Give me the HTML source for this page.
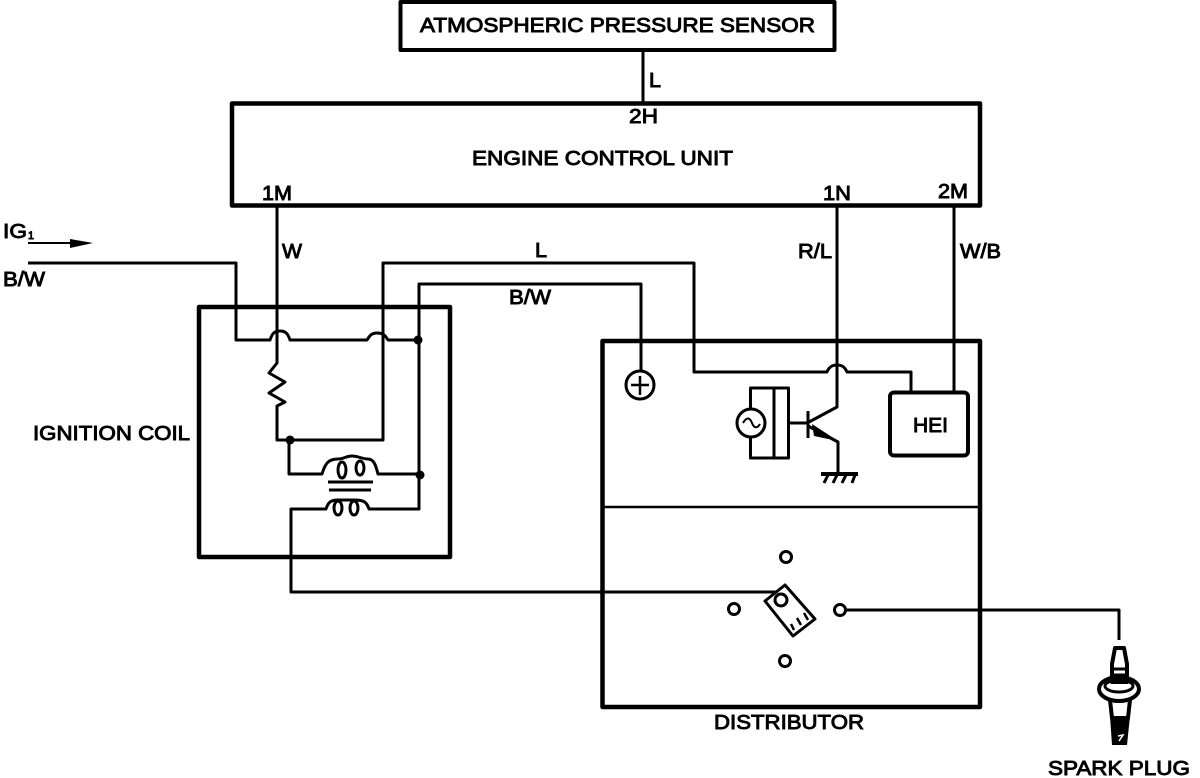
<!DOCTYPE html>
<html><head><meta charset="utf-8"><style>
html,body{margin:0;padding:0;background:#fff}
svg{display:block}
text{font-family:"Liberation Sans",sans-serif;font-size:20px;fill:#000;stroke:#000;stroke-width:.9}
</style></head><body>
<svg width="1200" height="778" viewBox="0 0 1200 778" xmlns="http://www.w3.org/2000/svg">
<g fill="none" stroke="#000" stroke-width="3" stroke-linejoin="round">
<rect x="400.500" y="2" width="434" height="48" stroke-width="4"/>
<rect x="232" y="103.500" width="748" height="102" stroke-width="4.500"/>
<rect x="199" y="307" width="251" height="250" stroke-width="4.500"/>
<rect x="602.500" y="341" width="377.500" height="366" stroke-width="4.500"/>
<path d="M603 507H980" stroke-width="2.500"/>
<rect x="890" y="392.500" width="78" height="63" rx="4" stroke-width="4"/>
<path d="M643 50V103"/>
<path d="M277 205V331M277 331V363L269 373L285 382L269 393L285 402L277 406V440H383V263H694V372H827C829 367 832 365 837 365C842 365 845 367 847 372H911V392"/>
<path d="M837 205V407L809 422"/>
<path d="M28 263H236V340H270C272 334 274 331 280 331C286 331 288 334 290 340H367C370 335 372 333 377 333C383 333 385 335 388 340H419"/>
<path d="M641 370V284H419V509H369C367 503 365 500 355 500H338C330 500 328 503 326 509H291V592H776"/>
<path d="M289 440V474H322C325 464 328 459 338 459C344 459 346 456 352 456C358 456 362 459 368 459C374 459 376 466 378 474H420"/>
<path d="M328 482H373M329 490H371" stroke-width="3"/>
<ellipse cx="342" cy="470" rx="4" ry="8"/><ellipse cx="360" cy="468" rx="4" ry="7"/>
<ellipse cx="338" cy="508" rx="4" ry="7"/><ellipse cx="354" cy="508" rx="4" ry="7"/>
<path d="M954 205V392"/>
<circle cx="640" cy="385" r="14"/>
<path d="M640 376V395M631 385H649" stroke-width="2.500"/>
<rect x="750.500" y="388" width="38" height="70"/>
<path d="M774 388V458"/>
<circle cx="751" cy="423" r="14" fill="#fff"/>
<path d="M743 423C747 416 750 418 752 423C754 428 757 429 760 424" stroke-width="2"/>
<path d="M790 423H808M808 411V438" stroke-width="3"/>
<path d="M808 426L838 442V473"/>
<path d="M821 474H858" stroke-width="4"/>
<path d="M828 475L824 483M837 475L833 483M846 475L842 483M855 475L852 483" stroke-width="3"/>
<circle cx="786" cy="557" r="5.500"/><circle cx="734" cy="609" r="5.500"/><circle cx="785" cy="661" r="5.500"/><circle cx="840" cy="610" r="5.500"/>
<path d="M846 610H1119V640"/>
<path d="M785 585L765 601L793 636L815 619Z" fill="#fff" stroke-width="3"/>
<circle cx="781" cy="600" r="6"/>
<path d="M794 630L791 624M801 625L797 618M808 620L804 613" stroke-width="2.500"/>
<path d="M28 243H75" stroke-width="2"/>
</g>
<g fill="#000" stroke="none">
<circle cx="418" cy="340" r="4.500"/><circle cx="290" cy="440" r="4.500"/><circle cx="420" cy="475" r="4.500"/>
<path d="M70 239L93 243L70 248Z"/>
<path d="M812 424L838 441L814 436Z"/>
</g>
<g fill="none" stroke="#000" stroke-width="4" stroke-linejoin="round">
<path d="M1115 648H1124L1127 664V682H1112V664Z"/>
<path d="M1113 669H1126M1113 675H1126" stroke-width="3"/>
<ellipse cx="1119" cy="689" rx="20" ry="12"/>
<ellipse cx="1119" cy="686" rx="14" ry="6" stroke-width="3"/>
<path d="M1110 700L1112 718H1128L1130 700"/>
</g>
<path d="M1110 716H1130L1127 745H1112Z" fill="#000"/>
<path d="M1118 736L1123 735L1119 741" fill="none" stroke="#fff" stroke-width="1.500"/>
<text x="420" y="32" textLength="395" lengthAdjust="spacingAndGlyphs">ATMOSPHERIC PRESSURE SENSOR</text>
<text x="649" y="87" textLength="12" lengthAdjust="spacingAndGlyphs">L</text>
<text x="629" y="123" textLength="29" lengthAdjust="spacingAndGlyphs">2H</text>
<text x="472" y="165" textLength="261" lengthAdjust="spacingAndGlyphs">ENGINE CONTROL UNIT</text>
<text x="262" y="200" textLength="30" lengthAdjust="spacingAndGlyphs">1M</text>
<text x="823" y="200" textLength="28" lengthAdjust="spacingAndGlyphs">1N</text>
<text x="938" y="198" textLength="30" lengthAdjust="spacingAndGlyphs">2M</text>
<text x="3" y="238" textLength="24" lengthAdjust="spacingAndGlyphs">IG</text>
<text x="28" y="239" style="font-size:11px" textLength="6" lengthAdjust="spacingAndGlyphs">1</text>
<text x="3" y="286" textLength="42" lengthAdjust="spacingAndGlyphs">B/W</text>
<text x="282" y="258" textLength="20" lengthAdjust="spacingAndGlyphs">W</text>
<text x="535" y="257" textLength="12" lengthAdjust="spacingAndGlyphs">L</text>
<text x="509" y="304" textLength="42" lengthAdjust="spacingAndGlyphs">B/W</text>
<text x="798" y="258" textLength="34" lengthAdjust="spacingAndGlyphs">R/L</text>
<text x="960" y="258" textLength="41" lengthAdjust="spacingAndGlyphs">W/B</text>
<text x="33" y="440" textLength="157" lengthAdjust="spacingAndGlyphs">IGNITION COIL</text>
<text x="913" y="432" textLength="35" lengthAdjust="spacingAndGlyphs">HEI</text>
<text x="714" y="729" textLength="150" lengthAdjust="spacingAndGlyphs">DISTRIBUTOR</text>
<text x="1048" y="775" textLength="142" lengthAdjust="spacingAndGlyphs">SPARK PLUG</text>
</svg>
</body></html>
